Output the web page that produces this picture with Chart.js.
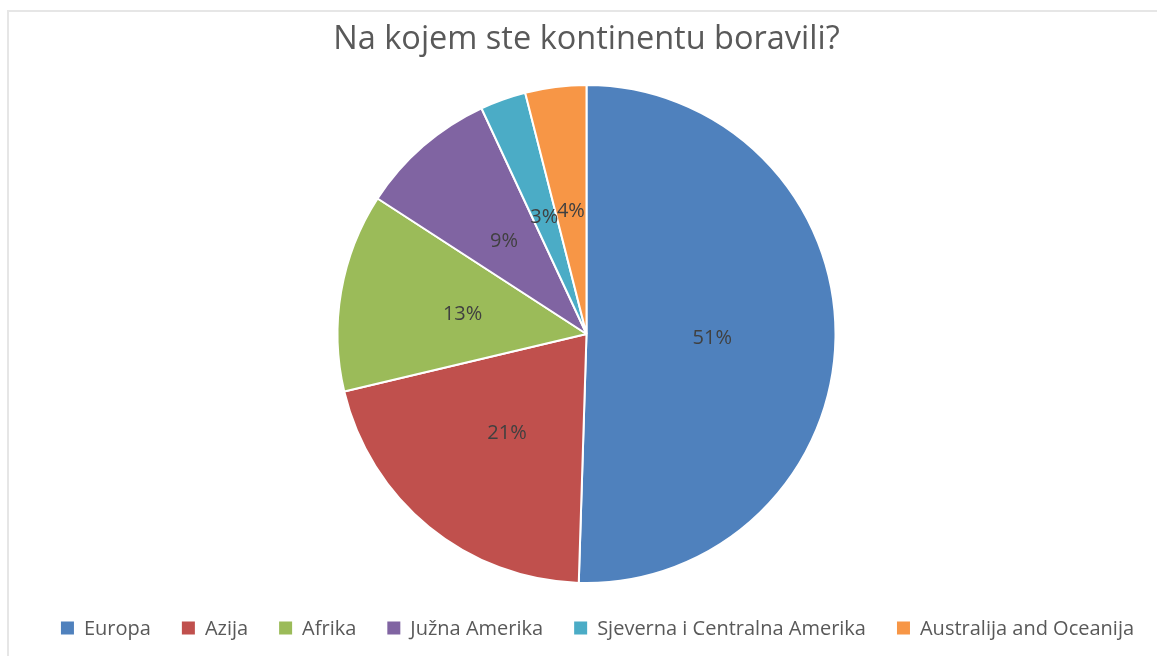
<!DOCTYPE html>
<html>
<head>
<meta charset="utf-8">
<script src="https://cdn.jsdelivr.net/npm/chart.js@4/dist/chart.umd.min.js"></script>
<style>
  html, body { margin: 0; padding: 0; background: #fff; overflow: hidden; }
  #frame { position: absolute; left: 7px; top: 10px; width: 1200px; height: 700px;
           border-top: 2px solid #e6e6e6; border-left: 2px solid #e6e6e6; }
  #wrap { position: absolute; left: 0; top: 0; width: 1157px; height: 656px; }
</style>
</head>
<body>
<div id="frame"></div>
<div id="wrap"><canvas id="c" width="1157" height="656"></canvas></div>
<script>
// Survey answers: share of respondents per continent (%)
const titleText = 'Na kojem ste kontinentu boravili?';
const continents = ['Europa', 'Azija', 'Afrika', 'Južna Amerika', 'Sjeverna i Centralna Amerika', 'Australija and Oceanija'];
const shares = [51, 21, 13, 9, 3, 4];
const sliceColors = ['#4F81BD', '#C0504D', '#9BBB59', '#8064A2', '#4BACC6', '#F79646'];

const FONT = "'Open Sans', 'Noto Sans', sans-serif";

// Percentage labels placed halfway out along each slice's bisector
const sliceLabels = {
  id: 'sliceLabels',
  afterDatasetsDraw(chart) {
    const ctx = chart.ctx;
    const meta = chart.getDatasetMeta(0);
    ctx.save();
    ctx.font = '20px ' + FONT;
    ctx.fillStyle = '#404040';
    ctx.textAlign = 'center';
    ctx.textBaseline = 'middle';
    meta.data.forEach((arc, i) => {
      const p = arc.getProps(['x', 'y', 'startAngle', 'endAngle', 'outerRadius'], true);
      const mid = (p.startAngle + p.endAngle) / 2;
      const r = p.outerRadius * 0.505;
      ctx.fillText(chart.data.datasets[0].data[i] + '%', p.x + Math.cos(mid) * r, p.y + Math.sin(mid) * r + 2);
    });
    ctx.restore();
  }
};

// Single-row legend along the bottom edge
const bottomLegend = {
  id: 'bottomLegend',
  afterDraw(chart) {
    const ctx = chart.ctx;
    const box = 13, boxGap = 10, itemGap = 31, cy = 628, centerX = 597.5;
    ctx.save();
    ctx.font = '20px ' + FONT;
    ctx.textBaseline = 'middle';
    const labels = chart.data.labels;
    const colors = chart.data.datasets[0].backgroundColor;
    const widths = labels.map(t => ctx.measureText(t).width);
    const total = widths.reduce((s, w) => s + box + boxGap + w, 0) + itemGap * (labels.length - 1);
    let x = centerX - total / 2;
    labels.forEach((t, i) => {
      ctx.fillStyle = colors[i];
      ctx.fillRect(x, cy - box / 2, box, box);
      ctx.fillStyle = '#595959';
      ctx.fillText(t, x + box + boxGap, cy + 1);
      x += box + boxGap + widths[i] + itemGap;
    });
    ctx.restore();
  }
};

new Chart(document.getElementById('c'), {
  type: 'pie',
  data: {
    labels: continents,
    datasets: [{
      data: shares,
      backgroundColor: sliceColors,
      borderColor: '#ffffff',
      borderWidth: 2
    }]
  },
  options: {
    responsive: false,
    animation: false,
    layout: { padding: { left: 16, right: 0, top: 0, bottom: 72 } },
    plugins: {
      legend: { display: false },
      tooltip: { enabled: false },
      title: {
        display: true,
        text: titleText,
        color: '#595959',
        font: { family: FONT, size: 32.5, weight: 'normal', lineHeight: 1.2 },
        padding: { top: 20.5, bottom: 24.5 }
      }
    }
  },
  plugins: [sliceLabels, bottomLegend]
});
</script>
</body>
</html>
